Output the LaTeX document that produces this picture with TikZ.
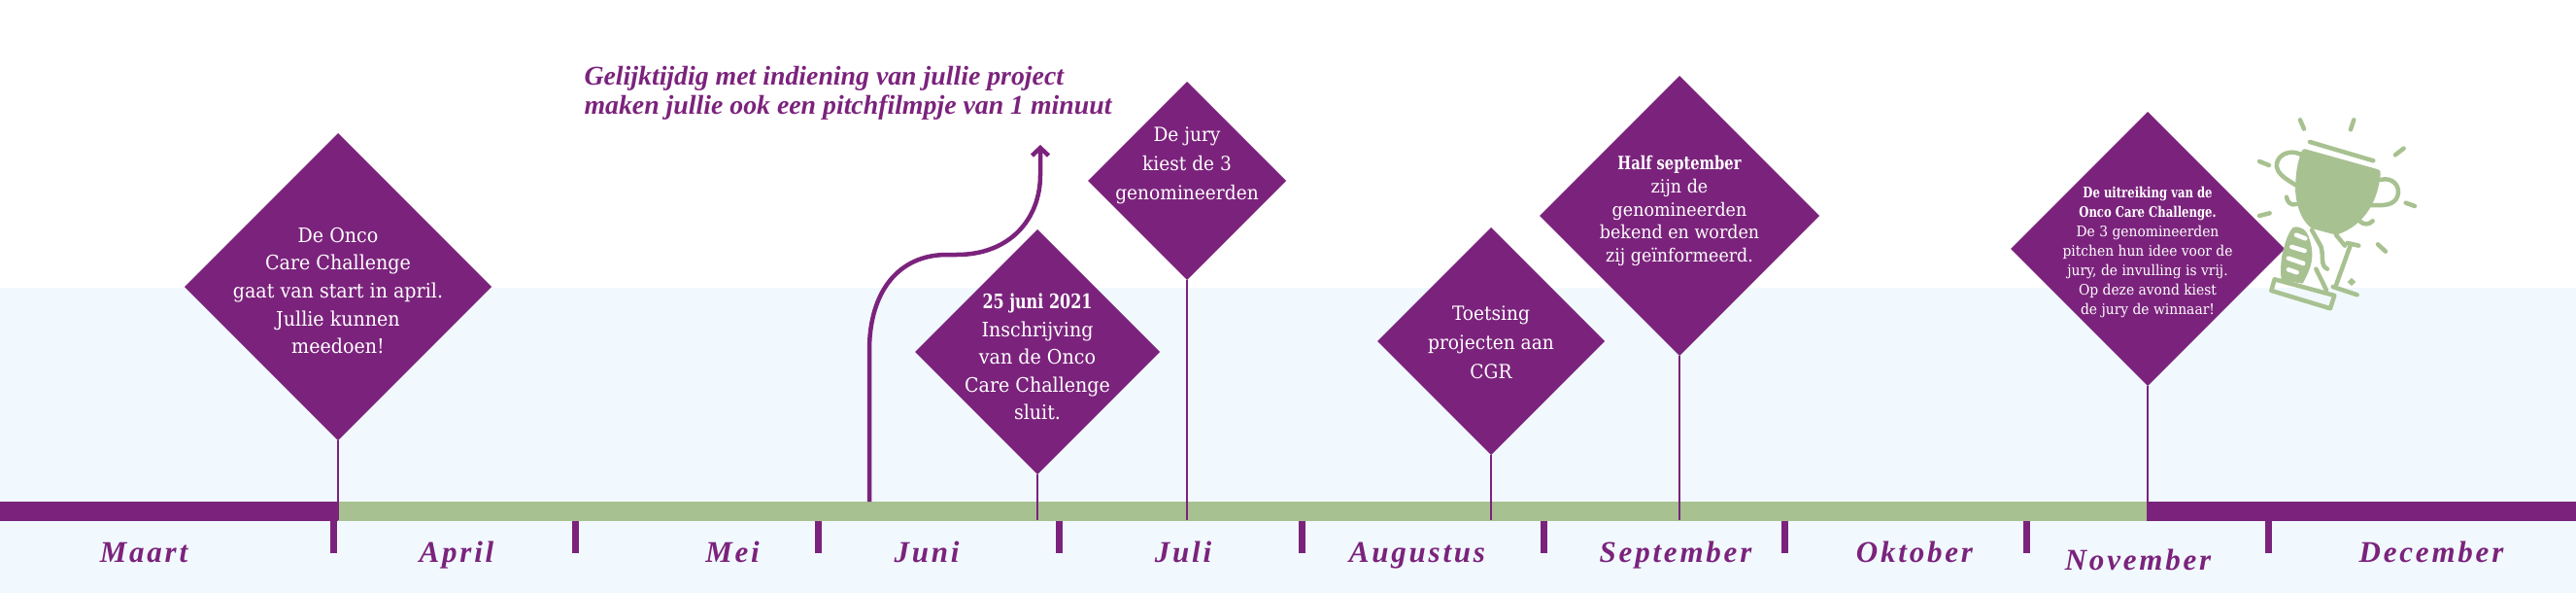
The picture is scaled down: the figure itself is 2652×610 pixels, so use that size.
\documentclass[tikz,border=0pt]{standalone}
\usepackage{fontspec}
\usepackage{tikz}
\usetikzlibrary{arrows.meta,shapes.geometric}
\newfontfamily\slabfont[FakeStretch=0.93,BoldFeatures={FakeStretch=0.78}]{DejaVu Serif}
\newfontfamily\kopfont{Liberation Serif}
\newfontfamily\maandfont[LetterSpace=9]{Liberation Serif}
\definecolor{paars}{HTML}{7B237C}
\definecolor{groen}{HTML}{A8C191}
\definecolor{lucht}{HTML}{F1F9FF}
\tikzset{
    %Define standard arrow tip
    >={Straight Barb[length=8pt,width=17pt]},
    %Define style for boxes
    mijlpaal/.style={
           diamond,
           aspect=1,
           fill=paars,
           inner sep=0pt,
           outer sep=0pt},
    tekst/.style={
           text=white,
           align=center,
           inner sep=0pt,
           font=\slabfont\fontsize{20.5}{28.6}\selectfont},
    maand/.style={
           text=paars,
           anchor=base,
           font=\maandfont\bfseries\itshape\fontsize{31}{31}\selectfont},
    streep/.style={
           rectangle,
           fill=paars,
           inner sep=0pt,
           outer sep=0pt,
           minimum width=7pt,
           minimum height=33pt},
    % Define line styles
    stem/.style={
           draw=paars,
           line width=2pt},
    icoon/.style={
           draw=groen,
           line width=4.5pt,
           line cap=round,
           line join=round}
}
\begin{document}
\begin{tikzpicture}[x=1pt,y=-1pt]
\useasboundingbox (0,0) rectangle (2652,610);
 %background and bar
\fill[lucht] (0,296) rectangle (2652,610);
\fill[paars] (0,516) rectangle (348,536);
\fill[groen] (348,516) rectangle (2210,536);
\fill[paars] (2210,516) rectangle (2652,536);
 %ticks
\node[streep](t1) at (343,552){};
\node[streep](t2) at (592,552){};
\node[streep](t3) at (842,552){};
\node[streep](t4) at (1090,552){};
\node[streep](t5) at (1340,552){};
\node[streep](t6) at (1589,552){};
\node[streep](t7) at (1837,552){};
\node[streep](t8) at (2086,552){};
\node[streep](t9) at (2335,552){};
 %months
\node[maand](maart) at (148,578){Maart};
\node[maand](april) at (470,578){April};
\node[maand](mei) at (754,578){Mei};
\node[maand](juni) at (954,578){Juni};
\node[maand](juli) at (1218,578){Juli};
\node[maand](augustus) at (1459,578){Augustus};
\node[maand](september) at (1725,578){September};
\node[maand](oktober) at (1971,578){Oktober};
\node[maand](november) at (2201,586){November};
\node[maand](december) at (2503,578){December};
 %milestones
\node[mijlpaal, minimum size=316pt](start) at (348,295){};
\node[mijlpaal, minimum size=252pt](sluit) at (1068,362){};
\node[mijlpaal, minimum size=204pt](jury) at (1222,186){};
\node[mijlpaal, minimum size=234pt](toets) at (1535,351){};
\node[mijlpaal, minimum size=288pt](half) at (1729,222){};
\node[mijlpaal, minimum size=282pt](uitreiking) at (2211,256){};
\node[tekst] (starttxt) at (348,299){De Onco\\Care Challenge\\gaat van start in april.\\Jullie kunnen\\meedoen!};
\node[tekst] (sluittxt) at (1068,367){\textbf{25 juni 2021}\\Inschrijving\\van de Onco\\Care Challenge\\sluit.};
\node[tekst, font=\slabfont\fontsize{20}{30}\selectfont] (jurytxt) at (1222,170){De jury\\kiest de 3\\genomineerden};
\node[tekst, font=\slabfont\fontsize{20}{30}\selectfont] (toetstxt) at (1535,352){Toetsing\\projecten aan\\CGR};
\node[tekst, font=\slabfont\fontsize{18.8}{23.8}\selectfont] (halftxt) at (1729,217){\textbf{Half september}\\zijn de\\genomineerden\\bekend en worden\\zij geïnformeerd.};
\node[tekst, font=\slabfont\fontsize{14.9}{20}\selectfont] (uitreikingtxt) at (2211,259){\textbf{De uitreiking van de}\\\textbf{Onco Care Challenge.}\\De 3 genomineerden\\pitchen hun idee voor de\\jury, de invulling is vrij.\\Op deze avond kiest\\de jury de winnaar!};
\node[text=paars, align=left, anchor=base west, font=\kopfont\bfseries\itshape\fontsize{27.8}{30}\selectfont] (film) at (598,117){Gelijktijdig met indiening van jullie project\\maken jullie ook een pitchfilmpje van 1 minuut};
 %stems
\coordinate (startvoet) at (348,535);
\coordinate (sluitvoet) at (1068,535);
\coordinate (juryvoet) at (1222,535);
\coordinate (toetsvoet) at (1535,535);
\coordinate (halfvoet) at (1729,535);
\coordinate (uitreikingvoet) at (2211,535);
 \path[every edge/.style={stem}]
    (start.south) edge (startvoet)
    (sluit.south) edge (sluitvoet)
    (jury.south) edge (juryvoet)
    (toets.south) edge (toetsvoet)
    (half.south) edge (halfvoet)
    (uitreiking.south) edge (uitreikingvoet);
 %curved arrow
\coordinate (pijlstart) at (895,516);
\coordinate (pijleind) at (1071,149);
\draw[->,draw=paars,line width=4.5pt] (pijlstart) -- (895,360)
    .. controls (895,300) and (925,262) .. (975,262) -- (985,262)
    .. controls (1040,262) and (1071,225) .. (1071,180) -- (pijleind);
 %trophy
\begin{scope}[shift={(2040,100)},x=0.3333pt,y=-0.3333pt]
 \draw[icoon] (984,70) -- (996,98) (1150,70) -- (1140,100) (1304,158) -- (1278,178)
    (1310,326) -- (1338,336) (1224,454) -- (1248,476) (858,198) -- (888,210) (858,366) -- (890,358)
    (1014,138) -- (1210,196);
 \fill[groen] (1000,160) -- (1222,222) .. controls (1232,225) and (1234,232) .. (1232,240)
    .. controls (1225,310) and (1190,395) .. (1095,425) -- (1020,405)
    .. controls (985,380) and (965,320) .. (970,260) .. controls (972,220) and (980,190) .. (988,168)
    .. controls (990,162) and (995,159) .. (1000,160) -- cycle;
 \draw[icoon] (985,176) .. controls (935,155) and (900,195) .. (915,225) .. controls (925,245) and (950,258) .. (972,272)
    (942,308) .. controls (945,325) and (955,335) .. (972,330)
    (1232,255) .. controls (1270,245) and (1295,275) .. (1285,305) .. controls (1275,335) and (1240,335) .. (1200,333)
    (1208,382) .. controls (1195,395) and (1180,395) .. (1165,380);
 \fill[groen] (1143,558) -- (1156,570) -- (1143,582) -- (1130,570) -- cycle;
 %hand
 \fill[groen] (926,565) .. controls (922,530) and (925,490) .. (935,460) .. controls (942,435) and (950,415) .. (962,402)
    .. controls (985,395) and (1005,410) .. (1012,435) .. controls (1022,465) and (1025,490) .. (1015,525)
    .. controls (1008,545) and (1000,560) .. (992,575) -- cycle;
 \draw[white,line width=4.5pt,line cap=round] (972,425) -- (1000,436) (958,462) -- (998,474) (948,497) -- (994,513) (948,532) -- (974,541);
 \draw[icoon] (1020,410) -- (1048,460) .. controls (1058,490) and (1045,520) .. (1068,530)
    (1033,530) -- (1065,595)
    (1095,425) -- (1122,458) (1140,455) -- (1095,580) (1130,450) -- (1165,458) (1085,585) -- (1160,610);
 \draw[icoon] (905,562) -- (1090,612) -- (1077,652) -- (895,597) -- cycle;
\end{scope}
\end{tikzpicture}
\end{document}
